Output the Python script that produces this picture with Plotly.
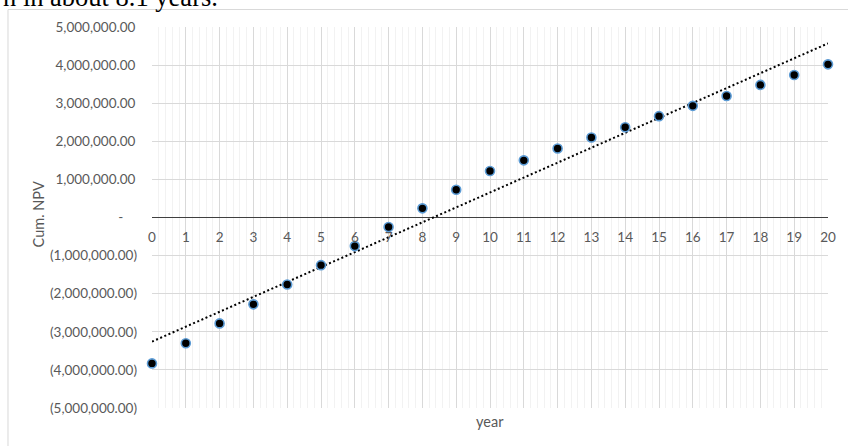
import numpy as np
import plotly.graph_objects as go

# ---- data ----
years = list(range(0, 21))
cum_npv = [-3830000, -3300000, -2780000, -2280000, -1760000, -1250000, -750000,
           -250000, 240000, 730000, 1220000, 1500000, 1810000, 2100000, 2370000,
           2660000, 2930000, 3190000, 3480000, 3740000, 4020000]
y_tick_values = [5000000, 4000000, 3000000, 2000000, 1000000, 0,
                 -1000000, -2000000, -3000000, -4000000, -5000000]
x_tick_values = list(range(0, 21))
caption_text = "n in about 8.1 years."
y_title = "Cum. NPV"
x_title = "year"


def acct(v):
    if v == 0:
        return "-\u00a0\u00a0\u00a0\u00a0"
    s = f"{abs(v):,.2f}"
    return f"({s})" if v < 0 else s + "\u2009"


y_tick_text = [acct(v) for v in y_tick_values]

# linear trendline (least squares, like Excel's linear trendline)
slope, intercept = np.polyfit(years, cum_npv, 1)
trend_x = [years[0], years[-1]]
trend_y = [intercept + slope * x for x in trend_x]

# ---- layout geometry (pixels) ----
W, H = 848, 446
L, R, T, B = 152, 13, 26.5, 38
pw, ph = W - L - R, H - T - B


def px_x(px):
    return (px - L) / pw


def px_y(py):
    return 1 - (py - T) / ph


grey = "#595959"
font = "Lato, 'Noto Sans', sans-serif"

fig = go.Figure()
fig.add_trace(go.Scatter(
    x=trend_x, y=trend_y, mode="lines",
    line=dict(color="#000000", width=2, dash="2px,2.5px"),
    hoverinfo="skip", showlegend=False,
))
fig.add_trace(go.Scatter(
    x=years, y=cum_npv, mode="markers",
    marker=dict(size=9, color="#000000", line=dict(color="#5B9BD5", width=1.6)),
    cliponaxis=False, showlegend=False,
))

fig.update_layout(
    width=W, height=H, autosize=False,
    margin=dict(l=L, r=R, t=T, b=B, pad=0),
    paper_bgcolor="white", plot_bgcolor="white",
    font=dict(family=font, color=grey, size=12),
    showlegend=False,
    xaxis=dict(
        range=[0, 20], tickvals=x_tick_values,
        ticktext=[str(v) for v in x_tick_values],
        anchor="free", position=0.5,
        showgrid=True, gridcolor="#d9d9d9", gridwidth=1,
        minor=dict(dtick=0.2, showgrid=True, gridcolor="#f2f2f2", gridwidth=1),
        showline=False, zeroline=False, ticks="",
        tickfont=dict(size=13.5, color=grey, family=font),
        ticklabelstandoff=10,
    ),
    yaxis=dict(
        range=[-5000000, 5000000], tickvals=y_tick_values, ticktext=y_tick_text,
        showgrid=True, gridcolor="#d9d9d9", gridwidth=1,
        zeroline=True, zerolinecolor="#404040", zerolinewidth=1,
        showline=False, ticks="",
        tickfont=dict(size=13.5, color=grey, family=font),
        ticklabelstandoff=14,
    ),
    annotations=[
        dict(text=y_title, xref="paper", yref="paper", x=px_x(37), y=px_y(214),
             xanchor="center", yanchor="middle", textangle=-90, showarrow=False,
             font=dict(size=14.5, color=grey, family=font)),
        dict(text=x_title, xref="paper", yref="paper", x=px_x(493), y=px_y(422),
             xanchor="center", yanchor="middle", showarrow=False,
             font=dict(size=14.5, color=grey, family=font)),
        dict(text=caption_text, xref="paper", yref="paper", x=px_x(-1), y=px_y(13),
             xanchor="left", yanchor="bottom", showarrow=False,
             font=dict(size=26.5, color="#000000",
                       family="'Liberation Serif', 'Times New Roman', serif")),
    ],
    shapes=[
        dict(type="rect", xref="paper", yref="paper",
             x0=px_x(6.5), x1=px_x(W + 20), y0=px_y(H + 20), y1=px_y(9),
             line=dict(color="#d9d9d9", width=1), fillcolor="rgba(0,0,0,0)",
             layer="below"),
    ],
)

fig.write_html("out.html", config={"displayModeBar": False},
               post_script="document.body.style.margin='0';document.body.style.overflow='hidden';")
